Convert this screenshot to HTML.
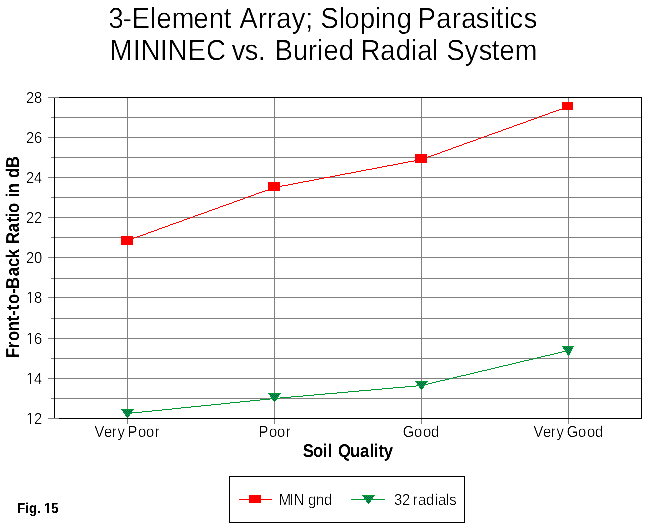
<!DOCTYPE html>
<html lang="en"><head><meta charset="utf-8"><title>Fig. 15</title>
<style>
html,body{margin:0;padding:0;background:#fff;}
body{width:648px;height:529px;overflow:hidden;}
svg{display:block;}
text{font-family:"Liberation Sans",Arial,Helvetica,sans-serif;fill:#000;white-space:pre;text-rendering:geometricPrecision;}.b{font-weight:bold;}
</style></head><body>
<svg width="648" height="529" viewBox="0 0 648 529">
<rect x="0" y="0" width="648" height="529" fill="#fff"/>
<defs><filter id="na" x="0" y="0" width="648" height="529" filterUnits="userSpaceOnUse" color-interpolation-filters="sRGB"><feFlood flood-color="#fff" result="w"/><feComposite in="SourceGraphic" in2="w" operator="over"/><feColorMatrix type="matrix" values="0 0 0 0 0 0 0 0 0 0 0 0 0 0 0 -1 0 0 0 1"/><feComponentTransfer><feFuncA type="table" tableValues="0 0 0.5 1 1"/></feComponentTransfer></filter></defs>
<defs><pattern id="dz" width="2" height="2" patternUnits="userSpaceOnUse"><rect width="2" height="2" fill="#00a060"/><rect x="1" y="0" width="1" height="1" fill="#006030"/><rect x="0" y="1" width="1" height="1" fill="#006030"/></pattern></defs>
<g shape-rendering="crispEdges">
<rect x="54" y="97" width="588" height="322" fill="#000"/>
<rect x="55" y="98" width="586" height="320" fill="#fff"/>
<rect x="48" y="97" width="11" height="1" fill="#808080"/>
<rect x="51" y="117" width="590" height="1" fill="#808080"/>
<rect x="48" y="137" width="593" height="1" fill="#808080"/>
<rect x="51" y="157" width="590" height="1" fill="#808080"/>
<rect x="48" y="177" width="593" height="1" fill="#808080"/>
<rect x="51" y="197" width="590" height="1" fill="#808080"/>
<rect x="48" y="217" width="593" height="1" fill="#808080"/>
<rect x="51" y="237" width="590" height="1" fill="#808080"/>
<rect x="48" y="257" width="593" height="1" fill="#808080"/>
<rect x="51" y="278" width="590" height="1" fill="#808080"/>
<rect x="48" y="297" width="593" height="1" fill="#808080"/>
<rect x="51" y="318" width="590" height="1" fill="#808080"/>
<rect x="48" y="338" width="593" height="1" fill="#808080"/>
<rect x="51" y="358" width="590" height="1" fill="#808080"/>
<rect x="48" y="378" width="593" height="1" fill="#808080"/>
<rect x="51" y="398" width="590" height="1" fill="#808080"/>
<rect x="48" y="418" width="11" height="1" fill="#808080"/>
<rect x="127" y="98" width="1" height="320" fill="#808080"/>
<rect x="127" y="419" width="1" height="5" fill="#808080"/>
<rect x="274" y="98" width="1" height="320" fill="#808080"/>
<rect x="274" y="419" width="1" height="5" fill="#808080"/>
<rect x="421" y="98" width="1" height="320" fill="#808080"/>
<rect x="421" y="419" width="1" height="5" fill="#808080"/>
<rect x="568" y="98" width="1" height="320" fill="#808080"/>
<rect x="568" y="419" width="1" height="5" fill="#808080"/>
<rect x="54" y="98" width="1" height="320" fill="#000"/>
<g fill="#ff0000"><rect x="127" y="240" width="2" height="1"/><rect x="129" y="239" width="3" height="1"/><rect x="132" y="238" width="2" height="1"/><rect x="134" y="237" width="3" height="1"/><rect x="137" y="236" width="3" height="1"/><rect x="140" y="235" width="3" height="1"/><rect x="143" y="234" width="3" height="1"/><rect x="146" y="233" width="2" height="1"/><rect x="148" y="232" width="3" height="1"/><rect x="151" y="231" width="3" height="1"/><rect x="154" y="230" width="3" height="1"/><rect x="157" y="229" width="2" height="1"/><rect x="159" y="228" width="3" height="1"/><rect x="162" y="227" width="3" height="1"/><rect x="165" y="226" width="3" height="1"/><rect x="168" y="225" width="2" height="1"/><rect x="170" y="224" width="3" height="1"/><rect x="173" y="223" width="3" height="1"/><rect x="176" y="222" width="3" height="1"/><rect x="179" y="221" width="3" height="1"/><rect x="182" y="220" width="2" height="1"/><rect x="184" y="219" width="3" height="1"/><rect x="187" y="218" width="3" height="1"/><rect x="190" y="217" width="3" height="1"/><rect x="193" y="216" width="2" height="1"/><rect x="195" y="215" width="3" height="1"/><rect x="198" y="214" width="3" height="1"/><rect x="201" y="213" width="3" height="1"/><rect x="204" y="212" width="3" height="1"/><rect x="207" y="211" width="2" height="1"/><rect x="209" y="210" width="3" height="1"/><rect x="212" y="209" width="3" height="1"/><rect x="215" y="208" width="3" height="1"/><rect x="218" y="207" width="2" height="1"/><rect x="220" y="206" width="3" height="1"/><rect x="223" y="205" width="3" height="1"/><rect x="226" y="204" width="3" height="1"/><rect x="229" y="203" width="3" height="1"/><rect x="232" y="202" width="2" height="1"/><rect x="234" y="201" width="3" height="1"/><rect x="237" y="200" width="3" height="1"/><rect x="240" y="199" width="3" height="1"/><rect x="243" y="198" width="2" height="1"/><rect x="245" y="197" width="3" height="1"/><rect x="248" y="196" width="3" height="1"/><rect x="251" y="195" width="3" height="1"/><rect x="254" y="194" width="2" height="1"/><rect x="256" y="193" width="3" height="1"/><rect x="259" y="192" width="3" height="1"/><rect x="262" y="191" width="3" height="1"/><rect x="265" y="190" width="3" height="1"/><rect x="268" y="189" width="2" height="1"/><rect x="270" y="188" width="3" height="1"/><rect x="273" y="187" width="4" height="1"/><rect x="277" y="186" width="5" height="1"/><rect x="282" y="185" width="6" height="1"/><rect x="288" y="184" width="5" height="1"/><rect x="293" y="183" width="5" height="1"/><rect x="298" y="182" width="5" height="1"/><rect x="303" y="181" width="6" height="1"/><rect x="309" y="180" width="5" height="1"/><rect x="314" y="179" width="5" height="1"/><rect x="319" y="178" width="5" height="1"/><rect x="324" y="177" width="6" height="1"/><rect x="330" y="176" width="5" height="1"/><rect x="335" y="175" width="5" height="1"/><rect x="340" y="174" width="5" height="1"/><rect x="345" y="173" width="6" height="1"/><rect x="351" y="172" width="5" height="1"/><rect x="356" y="171" width="5" height="1"/><rect x="361" y="170" width="5" height="1"/><rect x="366" y="169" width="6" height="1"/><rect x="372" y="168" width="5" height="1"/><rect x="377" y="167" width="5" height="1"/><rect x="382" y="166" width="5" height="1"/><rect x="387" y="165" width="6" height="1"/><rect x="393" y="164" width="5" height="1"/><rect x="398" y="163" width="5" height="1"/><rect x="403" y="162" width="5" height="1"/><rect x="408" y="161" width="6" height="1"/><rect x="414" y="160" width="5" height="1"/><rect x="419" y="159" width="4" height="1"/><rect x="423" y="158" width="3" height="1"/><rect x="426" y="157" width="2" height="1"/><rect x="428" y="156" width="3" height="1"/><rect x="431" y="155" width="3" height="1"/><rect x="434" y="154" width="3" height="1"/><rect x="437" y="153" width="3" height="1"/><rect x="440" y="152" width="2" height="1"/><rect x="442" y="151" width="3" height="1"/><rect x="445" y="150" width="3" height="1"/><rect x="448" y="149" width="3" height="1"/><rect x="451" y="148" width="2" height="1"/><rect x="453" y="147" width="3" height="1"/><rect x="456" y="146" width="3" height="1"/><rect x="459" y="145" width="3" height="1"/><rect x="462" y="144" width="2" height="1"/><rect x="464" y="143" width="3" height="1"/><rect x="467" y="142" width="3" height="1"/><rect x="470" y="141" width="3" height="1"/><rect x="473" y="140" width="3" height="1"/><rect x="476" y="139" width="2" height="1"/><rect x="478" y="138" width="3" height="1"/><rect x="481" y="137" width="3" height="1"/><rect x="484" y="136" width="3" height="1"/><rect x="487" y="135" width="2" height="1"/><rect x="489" y="134" width="3" height="1"/><rect x="492" y="133" width="3" height="1"/><rect x="495" y="132" width="3" height="1"/><rect x="498" y="131" width="3" height="1"/><rect x="501" y="130" width="2" height="1"/><rect x="503" y="129" width="3" height="1"/><rect x="506" y="128" width="3" height="1"/><rect x="509" y="127" width="3" height="1"/><rect x="512" y="126" width="2" height="1"/><rect x="514" y="125" width="3" height="1"/><rect x="517" y="124" width="3" height="1"/><rect x="520" y="123" width="3" height="1"/><rect x="523" y="122" width="3" height="1"/><rect x="526" y="121" width="2" height="1"/><rect x="528" y="120" width="3" height="1"/><rect x="531" y="119" width="3" height="1"/><rect x="534" y="118" width="3" height="1"/><rect x="537" y="117" width="2" height="1"/><rect x="539" y="116" width="3" height="1"/><rect x="542" y="115" width="3" height="1"/><rect x="545" y="114" width="3" height="1"/><rect x="548" y="113" width="2" height="1"/><rect x="550" y="112" width="3" height="1"/><rect x="553" y="111" width="3" height="1"/><rect x="556" y="110" width="3" height="1"/><rect x="559" y="109" width="3" height="1"/><rect x="562" y="108" width="2" height="1"/><rect x="564" y="107" width="3" height="1"/><rect x="567" y="106" width="2" height="1"/></g>
<rect x="121" y="236" width="12" height="9" fill="#ff0000"/>
<rect x="268" y="182" width="12" height="9" fill="#ff0000"/>
<rect x="415" y="154" width="12" height="9" fill="#ff0000"/>
<rect x="562" y="102" width="11" height="8" fill="#ff0000"/>
<g fill="#009933"><rect x="127" y="413" width="5" height="1"/><rect x="132" y="412" width="10" height="1"/><rect x="142" y="411" width="10" height="1"/><rect x="152" y="410" width="10" height="1"/><rect x="162" y="409" width="10" height="1"/><rect x="172" y="408" width="9" height="1"/><rect x="181" y="407" width="10" height="1"/><rect x="191" y="406" width="10" height="1"/><rect x="201" y="405" width="10" height="1"/><rect x="211" y="404" width="10" height="1"/><rect x="221" y="403" width="9" height="1"/><rect x="230" y="402" width="10" height="1"/><rect x="240" y="401" width="10" height="1"/><rect x="250" y="400" width="10" height="1"/><rect x="260" y="399" width="10" height="1"/><rect x="270" y="398" width="10" height="1"/><rect x="280" y="397" width="11" height="1"/><rect x="291" y="396" width="12" height="1"/><rect x="303" y="395" width="11" height="1"/><rect x="314" y="394" width="11" height="1"/><rect x="325" y="393" width="12" height="1"/><rect x="337" y="392" width="11" height="1"/><rect x="348" y="391" width="11" height="1"/><rect x="359" y="390" width="12" height="1"/><rect x="371" y="389" width="11" height="1"/><rect x="382" y="388" width="11" height="1"/><rect x="393" y="387" width="12" height="1"/><rect x="405" y="386" width="11" height="1"/><rect x="416" y="385" width="8" height="1"/><rect x="424" y="384" width="4" height="1"/><rect x="428" y="383" width="4" height="1"/><rect x="432" y="382" width="4" height="1"/><rect x="436" y="381" width="4" height="1"/><rect x="440" y="380" width="5" height="1"/><rect x="445" y="379" width="4" height="1"/><rect x="449" y="378" width="4" height="1"/><rect x="453" y="377" width="4" height="1"/><rect x="457" y="376" width="4" height="1"/><rect x="461" y="375" width="5" height="1"/><rect x="466" y="374" width="4" height="1"/><rect x="470" y="373" width="4" height="1"/><rect x="474" y="372" width="4" height="1"/><rect x="478" y="371" width="4" height="1"/><rect x="482" y="370" width="5" height="1"/><rect x="487" y="369" width="4" height="1"/><rect x="491" y="368" width="4" height="1"/><rect x="495" y="367" width="4" height="1"/><rect x="499" y="366" width="4" height="1"/><rect x="503" y="365" width="5" height="1"/><rect x="508" y="364" width="4" height="1"/><rect x="512" y="363" width="4" height="1"/><rect x="516" y="362" width="4" height="1"/><rect x="520" y="361" width="4" height="1"/><rect x="524" y="360" width="5" height="1"/><rect x="529" y="359" width="4" height="1"/><rect x="533" y="358" width="4" height="1"/><rect x="537" y="357" width="4" height="1"/><rect x="541" y="356" width="4" height="1"/><rect x="545" y="355" width="5" height="1"/><rect x="550" y="354" width="4" height="1"/><rect x="554" y="353" width="4" height="1"/><rect x="558" y="352" width="4" height="1"/><rect x="562" y="351" width="4" height="1"/><rect x="566" y="350" width="3" height="1"/></g>
<g transform="translate(121,409)"><rect x="0" y="0" width="13" height="1" fill="#009933"/><rect x="1" y="1" width="11" height="1" fill="#009933"/><rect x="2" y="1" width="9" height="1" fill="url(#dz)"/><rect x="2" y="2" width="9" height="1" fill="#009933"/><rect x="3" y="2" width="7" height="1" fill="url(#dz)"/><rect x="2" y="3" width="9" height="1" fill="#009933"/><rect x="3" y="3" width="7" height="1" fill="url(#dz)"/><rect x="3" y="4" width="7" height="1" fill="#009933"/><rect x="4" y="4" width="5" height="1" fill="url(#dz)"/><rect x="4" y="5" width="5" height="1" fill="#009933"/><rect x="5" y="5" width="3" height="1" fill="url(#dz)"/><rect x="4" y="6" width="5" height="1" fill="#009933"/><rect x="5" y="6" width="3" height="1" fill="url(#dz)"/><rect x="5" y="7" width="3" height="1" fill="#009933"/><rect x="6" y="7" width="1" height="1" fill="url(#dz)"/><rect x="6" y="8" width="1" height="1" fill="#009933"/></g>
<g transform="translate(268,393)"><rect x="0" y="0" width="13" height="1" fill="#009933"/><rect x="1" y="1" width="11" height="1" fill="#009933"/><rect x="2" y="1" width="9" height="1" fill="url(#dz)"/><rect x="2" y="2" width="9" height="1" fill="#009933"/><rect x="3" y="2" width="7" height="1" fill="url(#dz)"/><rect x="2" y="3" width="9" height="1" fill="#009933"/><rect x="3" y="3" width="7" height="1" fill="url(#dz)"/><rect x="3" y="4" width="7" height="1" fill="#009933"/><rect x="4" y="4" width="5" height="1" fill="url(#dz)"/><rect x="4" y="5" width="5" height="1" fill="#009933"/><rect x="5" y="5" width="3" height="1" fill="url(#dz)"/><rect x="4" y="6" width="5" height="1" fill="#009933"/><rect x="5" y="6" width="3" height="1" fill="url(#dz)"/><rect x="5" y="7" width="3" height="1" fill="#009933"/><rect x="6" y="7" width="1" height="1" fill="url(#dz)"/><rect x="6" y="8" width="1" height="1" fill="#009933"/></g>
<g transform="translate(415,381)"><rect x="0" y="0" width="13" height="1" fill="#009933"/><rect x="1" y="1" width="11" height="1" fill="#009933"/><rect x="2" y="1" width="9" height="1" fill="url(#dz)"/><rect x="2" y="2" width="9" height="1" fill="#009933"/><rect x="3" y="2" width="7" height="1" fill="url(#dz)"/><rect x="2" y="3" width="9" height="1" fill="#009933"/><rect x="3" y="3" width="7" height="1" fill="url(#dz)"/><rect x="3" y="4" width="7" height="1" fill="#009933"/><rect x="4" y="4" width="5" height="1" fill="url(#dz)"/><rect x="4" y="5" width="5" height="1" fill="#009933"/><rect x="5" y="5" width="3" height="1" fill="url(#dz)"/><rect x="4" y="6" width="5" height="1" fill="#009933"/><rect x="5" y="6" width="3" height="1" fill="url(#dz)"/><rect x="5" y="7" width="3" height="1" fill="#009933"/><rect x="6" y="7" width="1" height="1" fill="url(#dz)"/><rect x="6" y="8" width="1" height="1" fill="#009933"/></g>
<g transform="translate(562,346)"><rect x="0" y="0" width="12" height="1" fill="#009933"/><rect x="1" y="1" width="10" height="1" fill="#009933"/><rect x="2" y="1" width="8" height="1" fill="url(#dz)"/><rect x="1" y="2" width="10" height="1" fill="#009933"/><rect x="2" y="2" width="8" height="1" fill="url(#dz)"/><rect x="2" y="3" width="8" height="1" fill="#009933"/><rect x="3" y="3" width="6" height="1" fill="url(#dz)"/><rect x="3" y="4" width="7" height="1" fill="#009933"/><rect x="4" y="4" width="5" height="1" fill="url(#dz)"/><rect x="4" y="5" width="5" height="1" fill="#009933"/><rect x="5" y="5" width="3" height="1" fill="url(#dz)"/><rect x="4" y="6" width="5" height="1" fill="#009933"/><rect x="5" y="6" width="3" height="1" fill="url(#dz)"/><rect x="5" y="7" width="3" height="1" fill="#009933"/><rect x="6" y="7" width="1" height="1" fill="url(#dz)"/><rect x="5" y="8" width="3" height="1" fill="#009933"/><rect x="6" y="8" width="1" height="1" fill="url(#dz)"/><rect x="6" y="9" width="1" height="1" fill="#009933"/></g>
<rect x="229" y="476" width="236" height="47" fill="#000"/>
<rect x="230" y="477" width="234" height="45" fill="#fff"/>
<rect x="239" y="499" width="33" height="1" fill="#ff0000"/>
<rect x="249" y="495" width="12" height="8" fill="#ff0000"/>
<rect x="351" y="499" width="34" height="1" fill="#009933"/>
<g transform="translate(362,495)"><rect x="0" y="0" width="13" height="1" fill="#009933"/><rect x="1" y="1" width="11" height="1" fill="#009933"/><rect x="2" y="1" width="9" height="1" fill="url(#dz)"/><rect x="2" y="2" width="9" height="1" fill="#009933"/><rect x="3" y="2" width="7" height="1" fill="url(#dz)"/><rect x="2" y="3" width="9" height="1" fill="#009933"/><rect x="3" y="3" width="7" height="1" fill="url(#dz)"/><rect x="3" y="4" width="7" height="1" fill="#009933"/><rect x="4" y="4" width="5" height="1" fill="url(#dz)"/><rect x="4" y="5" width="5" height="1" fill="#009933"/><rect x="5" y="5" width="3" height="1" fill="url(#dz)"/><rect x="4" y="6" width="5" height="1" fill="#009933"/><rect x="5" y="6" width="3" height="1" fill="url(#dz)"/><rect x="5" y="7" width="3" height="1" fill="#009933"/><rect x="6" y="7" width="1" height="1" fill="url(#dz)"/><rect x="6" y="8" width="1" height="1" fill="#009933"/></g>
</g>
<g filter="url(#na)">
<text transform="translate(110.000,28) scale(0.93500,1)" font-size="29" stroke="#fff" stroke-width="0.15" x="-1.604 13.636 23.262 42.781 49.733 66.043 89.305 105.882 121.658 129.705 138.503 158.289 167.914 177.807 194.385 209.091 217.153 225.134 244.92 250.802 267.38 283.422 289.84 306.684 322.809 329.144 348.93 365.775 375.668 391.176 406.417 412.567 421.39 427.273 442.513">3-Element Array; Sloping Parasitics</text>
<text transform="translate(112.000,60) scale(0.93500,1)" font-size="29" stroke="#fff" stroke-width="0.15" x="-2.406 22.46 30.749 51.337 59.626 81.016 100.802 121.74 128.075 141.979 156.15 164.197 174.064 193.583 209.626 219.251 226.203 242.513 258.638 266.043 286.898 303.476 319.786 326.471 342.246 348.683 357.754 377.273 392.246 406.15 414.439 430.749">MININEC vs. Buried Radial System</text>
<text transform="translate(27.000,103) scale(0.92000,1)" font-size="16" stroke="#fff" stroke-width="0.15" x="-1.087 7.609">28</text>
<text transform="translate(27.000,143) scale(0.92000,1)" font-size="16" stroke="#fff" stroke-width="0.15" x="-1.087 7.609">26</text>
<text transform="translate(27.000,183) scale(0.92000,1)" font-size="16" stroke="#fff" stroke-width="0.15" x="-1.087 7.609">24</text>
<text transform="translate(27.000,223) scale(0.92000,1)" font-size="16" stroke="#fff" stroke-width="0.15" x="-1.087 7.609">22</text>
<text transform="translate(27.000,263) scale(0.92000,1)" font-size="16" stroke="#fff" stroke-width="0.15" x="-1.087 7.609">20</text>
<text transform="translate(27.000,303) scale(0.92000,1)" font-size="16" stroke="#fff" stroke-width="0.15" x="-1.087 7.609">18</text>
<text transform="translate(27.000,344) scale(0.92000,1)" font-size="16" stroke="#fff" stroke-width="0.15" x="-1.087 7.609">16</text>
<text transform="translate(27.000,384) scale(0.92000,1)" font-size="16" stroke="#fff" stroke-width="0.15" x="-1.087 7.609">14</text>
<text transform="translate(27.000,424) scale(0.92000,1)" font-size="16" stroke="#fff" stroke-width="0.15" x="-1.087 7.609">12</text>
<text transform="translate(95.000,437) scale(0.92000,1)" font-size="16" stroke="#fff" stroke-width="0.15" x="-0.543 9.783 18.207 24.457 32.457 35.326 46.739 55.435 64.946">Very Poor</text>
<text transform="translate(260.000,437) scale(0.92000,1)" font-size="16" stroke="#fff" stroke-width="0.15" x="-1.63 9.783 18.478 27.989">Poor</text>
<text transform="translate(404.000,437) scale(0.92000,1)" font-size="16" stroke="#fff" stroke-width="0.15" x="-1.359 10.87 20.652 29.348">Good</text>
<text transform="translate(534.000,437) scale(0.92000,1)" font-size="16" stroke="#fff" stroke-width="0.15" x="-0.543 9.783 18.207 24.457 32.457 35.598 47.826 57.609 66.304">Very Good</text>
<text class="b" transform="translate(303.000,457) scale(0.90000,1)" font-size="18.5" x="-0.278 11.111 21.944 27.5 32.641 38.889 52.222 63.333 74.167 78.611 83.889 89.722">Soil Quality</text>
<text class="b" transform="translate(19,357.000) rotate(-90) scale(0.90000,1)" font-size="18.5" x="-1.111 9.722 17.778 28.611 39.722 45.833 51.944 58.889 70.278 75.556 89.722 100 109.722 120.019 125.556 138.611 149.722 155.278 160 171.297 177.5 181.944 193.241 198.889 210">Front-to-Back Ratio in dB</text>
<text class="b" transform="translate(18.000,513) scale(0.90000,1)" font-size="14.5" x="-0.833 8.056 12.222 21.389 25.42 28.889 36.944">Fig. 15</text>
<text transform="translate(281.000,505) scale(0.92000,1)" font-size="16" stroke="#fff" stroke-width="0.15" x="-2.446 9.239 13.859 25.421 29.348 38.043 46.739">MIN gnd</text>
<text transform="translate(394.000,505) scale(0.92000,1)" font-size="16" stroke="#fff" stroke-width="0.15" x="0 8.696 17.602 20.38 26.087 34.783 44.293 47.826 56.25 60.054">32 radials</text>
</g>
<g fill="#fff" shape-rendering="crispEdges"><rect x="26" y="301" width="4" height="2"/><rect x="31" y="301" width="3" height="2"/><rect x="26" y="342" width="4" height="2"/><rect x="31" y="342" width="3" height="2"/><rect x="26" y="382" width="4" height="2"/><rect x="31" y="382" width="3" height="2"/><rect x="26" y="422" width="4" height="2"/><rect x="31" y="422" width="3" height="2"/><rect x="44" y="511" width="3" height="2"/><rect x="49" y="511" width="3" height="2"/></g>
</svg>
</body></html>
